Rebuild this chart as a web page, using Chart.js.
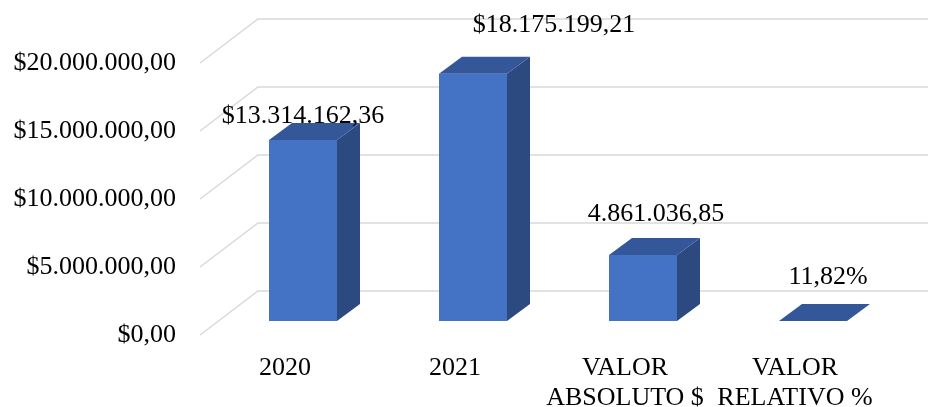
<!DOCTYPE html>
<html>
<head>
<meta charset="utf-8">
<script src="https://cdn.jsdelivr.net/npm/chart.js@4"></script>
<style>
  html, body { margin: 0; padding: 0; background: #fff; }
  #wrap { width: 928px; height: 407px; }
</style>
</head>
<body>
<div id="wrap"><canvas id="chart"></canvas></div>
<script>
// data
const categories = [['2020'], ['2021'], ['VALOR', 'ABSOLUTO $'], ['VALOR', 'RELATIVO %']];
const values = [13314162.36, 18175199.21, 4861036.85, 0.1182];
const valueKinds = ['money', 'money', 'plain', 'percent'];
const yTicks = [0, 5000000, 10000000, 15000000, 20000000];

const fmt = (n) => n.toLocaleString('de-DE', { minimumFractionDigits: 2, maximumFractionDigits: 2 });

function labelFor(i) {
    const v = values[i];
    if (valueKinds[i] === 'money') return '$' + fmt(v);
    if (valueKinds[i] === 'percent') return fmt(v * 100) + '%';
    return fmt(v);
}

const FONT = "'Liberation Serif', 'Times New Roman', serif";
const DEPTH_X = 23, DEPTH_Y = -17;

// 3d floor / wall grid lines
const grid3d = {
    id: 'grid3d',
    beforeDatasetsDraw(chart) {
        const { ctx, chartArea, scales } = chart;
        ctx.save();
        ctx.strokeStyle = '#d9d9d9';
        ctx.lineWidth = 1.5;
        yTicks.forEach((v) => {
            const y = scales.y.getPixelForValue(v);
            ctx.beginPath();
            ctx.moveTo(chartArea.left - 18, y + 14);
            ctx.lineTo(chartArea.left + 40, y - 30);
            ctx.lineTo(chart.width, y - 30);
            ctx.stroke();
        });
        ctx.restore();
    }
};

// side and top faces of each bar, plus the value labels
const bars3d = {
    id: 'bars3d',
    afterDatasetsDraw(chart) {
        const { ctx } = chart;
        const meta = chart.getDatasetMeta(0);
        ctx.save();
        meta.data.forEach((bar) => {
            const l = bar.x - bar.width / 2;
            const r = bar.x + bar.width / 2;
            const t = bar.y;
            const b = bar.base;
            // side
            ctx.fillStyle = '#2c4a80';
            ctx.beginPath();
            ctx.moveTo(r, b);
            ctx.lineTo(r + DEPTH_X, b + DEPTH_Y);
            ctx.lineTo(r + DEPTH_X, t + DEPTH_Y);
            ctx.lineTo(r, t);
            ctx.closePath();
            ctx.fill();
            // top
            ctx.fillStyle = '#34579a';
            ctx.beginPath();
            ctx.moveTo(l, t);
            ctx.lineTo(l + DEPTH_X, t + DEPTH_Y);
            ctx.lineTo(r + DEPTH_X, t + DEPTH_Y);
            ctx.lineTo(r, t);
            ctx.closePath();
            ctx.fill();
        });

        const shift = [[0, -24], [81, -49], [13, -41], [15, -44]];
        ctx.fillStyle = '#000';
        ctx.font = '26px ' + FONT;
        ctx.textAlign = 'center';
        ctx.textBaseline = 'middle';
        meta.data.forEach((bar, i) => {
            ctx.fillText(labelFor(i), bar.x + shift[i][0], bar.y + shift[i][1]);
        });
        ctx.restore();
    }
};

const ctx = document.getElementById('chart').getContext('2d');
// eslint-disable-next-line no-undef
const myChart = new Chart(ctx, {
    type: 'bar',
    data: {
        labels: categories,
        datasets: [{
            data: values,
            backgroundColor: '#4472c4',
            borderWidth: 0,
            categoryPercentage: 1,
            barPercentage: 0.4,
        }]
    },
    plugins: [grid3d, bars3d],
    options: {
        responsive: true,
        maintainAspectRatio: false,
        animation: false,
        layout: { padding: { top: 49, right: 30, left: 0, bottom: 0 } },
        plugins: {
            legend: { display: false },
            tooltip: { enabled: false },
        },
        scales: {
            x: {
                grid: { display: false, drawTicks: false },
                border: { display: false },
                ticks: {
                    color: '#000',
                    font: { family: FONT, size: 26, lineHeight: 1.15 },
                    labelOffset: -18,
                    padding: 32,
                    maxRotation: 0,
                    autoSkip: false,
                },
                afterFit(scale) { scale.height = 86; },
            },
            y: {
                min: 0,
                max: 20000000,
                grid: { display: false, drawTicks: false },
                border: { display: false },
                ticks: {
                    stepSize: 5000000,
                    color: '#000',
                    font: { family: FONT, size: 26 },
                    labelOffset: 14,
                    padding: 42,
                    callback: (v) => '$' + fmt(v),
                },
                afterFit(scale) {
                    scale.width = 218;
                    scale.paddingTop = 0;
                    scale.paddingBottom = 0;
                },
            }
        }
    }
});
</script>
</body>
</html>
